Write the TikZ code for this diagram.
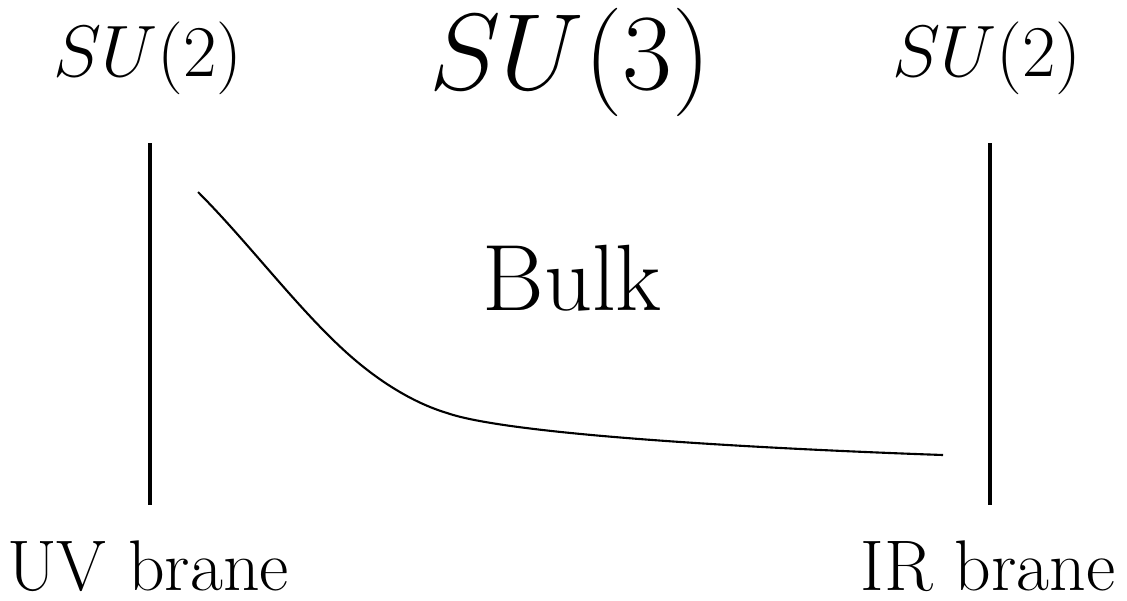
\documentclass[tikz,border=0pt]{standalone}
\usepackage{amsmath, amssymb}
\usepackage{tikz}
\usetikzlibrary{arrows.meta,positioning,calc}

\begin{document}
\begin{tikzpicture}[
  brane/.style={line width=1.4pt},
  grp/.style={font=\fontsize{20}{24}\selectfont},
  lbl/.style={font=\fontsize{20.4}{24}\selectfont}
]
\useasboundingbox (0,0) rectangle (11.27,6);
% branes
\coordinate (uvtop) at (1.5,4.57);
\coordinate (uvbot) at (1.5,0.95);
\coordinate (irtop) at (9.9,4.57);
\coordinate (irbot) at (9.9,0.95);
\draw[brane] (uvtop) -- (uvbot);
\draw[brane] (irtop) -- (irbot);
% gauge groups
\node[grp] (uvg) at (1.48,5.42) {$SU(2)$};
\node[font=\fontsize{24.88}{30}\selectfont,scale=1.24] (bulkg) at (5.7,5.38) {$SU(3)$};
\node[grp] (irg) at (9.87,5.42) {$SU(2)$};
\node[font=\fontsize{26.8}{32}\selectfont] (bulk) at (5.72,3.22) {Bulk};
\node[lbl] (uv) at (1.48,0.34) {UV brane};
\node[lbl] (ir) at (9.88,0.34) {IR brane};
% profile
\coordinate (p0) at (1.98,4.08);
\coordinate (p1) at (3.47,2.47);
\coordinate (p2) at (4.47,1.87);
\coordinate (p3) at (9.43,1.45);
\draw[line width=0.6pt] (p0) .. controls (2.48,3.58) and (2.97,2.92) .. (p1)
  .. controls (3.77,2.2) and (4.12,1.975) .. (p2)
  .. controls (5.07,1.66) and (7.43,1.52) .. (p3);
\end{tikzpicture}
\end{document}
